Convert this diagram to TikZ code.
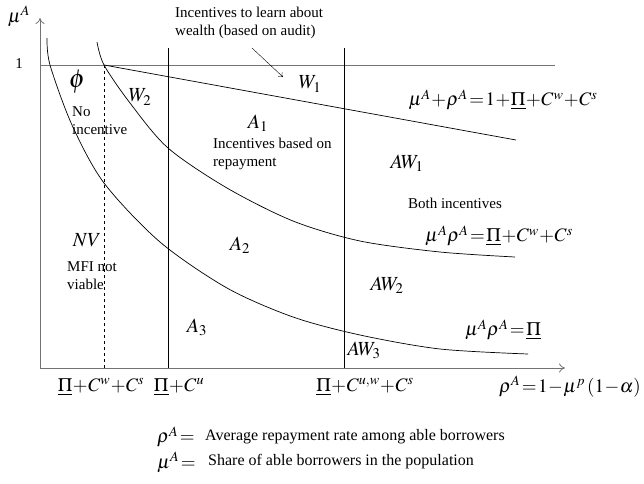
\documentclass[tikz,border=0pt]{standalone}
\usepackage{mathptmx}
\usepackage[no-math]{fontspec}
\setmainfont{Liberation Serif}
\usetikzlibrary{arrows.meta,positioning}
\medmuskip=0.5mu
\thickmuskip=1.5mu

\begin{document}
\begin{tikzpicture}[
  x=1pt, y=-1pt,
  axis/.style={draw=black!55, line width=0.8pt},
  bound/.style={draw, line width=0.7pt},
  curve/.style={draw, line width=0.7pt},
  txt/.style={font=\fontsize{15}{18}\selectfont, align=left, inner sep=0pt},
  legend/.style={font=\fontsize{16}{18}\selectfont, inner sep=0pt},
  reg/.style={font=\fontsize{20}{24}\selectfont, inner sep=0pt},
  eqn/.style={font=\fontsize{19}{24}\selectfont, inner sep=0pt},
  tip/.style={-{To[length=6pt,width=9pt]}}
]
\useasboundingbox (0,0) rectangle (644,483);

% axes
\coordinate (O) at (40,368);
\coordinate (ytop) at (40,18);
\coordinate (xend) at (565,368);
\draw[axis, tip] (O) -- (ytop);
\draw[axis, tip] (O) -- (xend);
\node[eqn] (mu) at (19,16) {$\mu^A$};
\node[txt] (one) at (19,64) {1};

% mu = 1 and the boundaries
\coordinate (h0) at (40,65);
\coordinate (h1) at (555,65);
\draw[axis] (h0) -- (h1);
\coordinate (d0) at (104,65);
\coordinate (d1) at (104,368);
\draw[bound, dashed, line width=0.6pt] (d0) -- (d1);
\coordinate (v0) at (168,48);
\coordinate (v1) at (168,368);
\draw[bound] (v0) -- (v1);
\coordinate (u0) at (344,48);
\coordinate (u1) at (344,368);
\draw[bound] (u0) -- (u1);
\coordinate (s1) at (516,140);
\draw[curve] (d0) -- (s1);

% the two curves
\draw[curve] plot[smooth, tension=0.5] coordinates
  {(97,42) (104,65) (130,103) (168,148) (227,188) (293,221) (360,241)
   (440,252) (515,257)};
\draw[curve] plot[smooth, tension=0.5] coordinates
  {(47,38) (50,65) (72,125) (104,183) (160,242) (227,288) (293,317)
   (360,335) (440,349) (528,354)};

% labels of the curves
\node[eqn] (eq1) at (503,100) {$\mu^A+\rho^A=1+\underline{\Pi}+C^w+C^s$};
\node[eqn] (eq2) at (499,236) {$\mu^A\rho^A=\underline{\Pi}+C^w+C^s$};
\node[eqn] (eq3) at (503,330) {$\mu^A\rho^A=\underline{\Pi}$};

% regions
\node[reg, font=\fontsize{26}{30}\selectfont] (phi) at (77,82) {$\phi$};
\node[txt, anchor=west] (noinc) at (72,121) {No\\incentive};
\node[reg] (w2) at (140,97) {$W_2$};
\node[reg] (w1) at (310,84) {$W_1$};
\node[reg] (a1) at (258,123) {$A_1$};
\node[txt, anchor=west] (rep) at (213,154) {Incentives based on\\repayment};
\node[reg] (aw1) at (407,163) {$AW_1$};
\node[txt] (both) at (455,203) {Both incentives};
\node[reg] (aw2) at (387,285) {$AW_2$};
\node[reg] (aw3) at (364,350) {$AW_3$};
\node[reg] (nv) at (87,240) {$NV$};
\node[txt, anchor=west] (mfi) at (67,276) {MFI not\\viable};
\node[reg] (a2) at (240,245) {$A_2$};
\node[reg] (a3) at (197,327) {$A_3$};

% audit note
\node[txt, anchor=west] (audit) at (175,23) {Incentives to learn about\\wealth (based on audit)};
\coordinate (n0) at (252,48);
\coordinate (n1) at (283,77);
\draw[line width=0.4pt, -{To[length=4pt,width=6pt]}] (n0) -- (n1);

% ticks on the rho axis
\node[eqn] (t1) at (101,387) {$\underline{\Pi}+C^w+C^s$};
\node[eqn] (t2) at (179,387) {$\underline{\Pi}+C^u$};
\node[eqn] (t3) at (365,387) {$\underline{\Pi}+C^{u,w}+C^s$};
\node[eqn, anchor=east] (rho) at (641,387) {$\rho^A=1-\mu^p\left(1-\alpha\right)$};

% legend
\node[eqn, anchor=west] (lr) at (157,437) {$\rho^A=$};
\node[legend, anchor=west] (lrt) at (205,437) {Average repayment rate among able borrowers};
\node[eqn, anchor=west] (lm) at (157,462) {$\mu^A=$};
\node[legend, anchor=west] (lmt) at (208,462) {Share of able borrowers in the population};
\end{tikzpicture}
\end{document}
